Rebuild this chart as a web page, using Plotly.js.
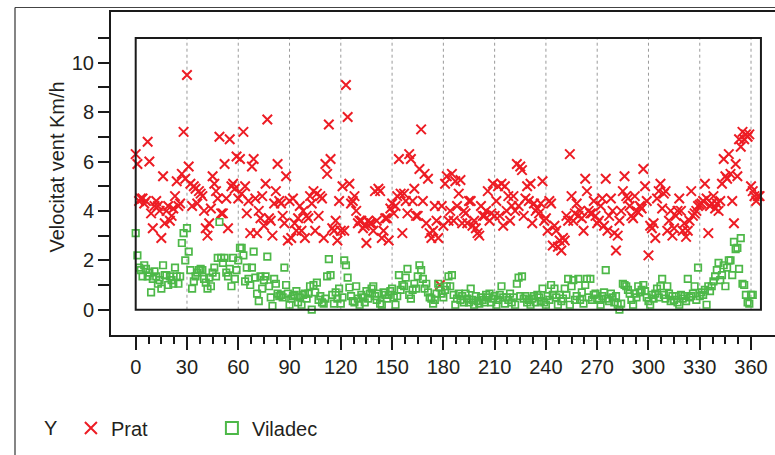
<!DOCTYPE html>
<html><head><meta charset="utf-8">
<script src="https://cdn.plot.ly/plotly-3.0.1.min.js"></script>
<style>html,body{margin:0;padding:0;overflow:hidden;background:#fff}#chart{width:790px;height:455px}</style>
</head><body><div id="chart"></div>
<script>
// Daily wind speed (km/h), day index 0..N
const pratValues = [
6.3,5.9,4.4,4.5,4.5,4.3,4.4,6.8,6.0,3.9,
3.3,4.2,4.4,4.2,4.0,2.9,5.4,3.5,4.0,4.2,
3.6,3.8,4.1,4.6,5.2,4.2,4.3,5.5,7.2,5.3,
9.5,5.8,5.1,4.2,5.0,4.9,4.3,4.8,4.7,4.6,
4.0,3.3,3.0,3.5,4.1,5.4,5.1,4.8,4.5,7.0,
3.9,3.9,5.9,4.5,3.3,6.9,5.0,5.1,4.9,6.2,
4.5,6.1,4.7,7.2,5.0,3.9,4.4,3.1,5.8,6.1,
4.5,3.1,4.0,3.7,4.6,3.4,5.1,7.7,3.7,3.6,
3.0,4.3,4.8,5.9,4.4,4.3,3.8,3.5,5.4,2.8,
4.4,2.9,4.5,3.5,3.2,3.7,4.2,3.2,4.0,2.9,
3.8,3.7,4.6,4.3,4.8,3.2,4.7,3.8,4.6,4.5,
2.9,5.9,5.5,7.5,6.1,3.3,3.2,3.6,2.8,4.4,
3.2,5.0,3.2,9.1,7.8,5.1,4.3,4.4,4.6,4.0,
3.5,3.6,3.6,3.3,3.4,2.7,3.6,3.5,3.5,3.2,
4.8,3.6,4.9,4.8,2.9,3.2,3.7,3.7,2.8,4.1,
4.3,3.9,4.2,4.6,6.1,4.7,3.1,4.7,4.4,3.9,
6.3,6.1,4.4,4.9,3.8,3.8,5.7,7.3,4.4,5.5,
3.5,5.3,3.1,2.9,3.2,4.2,3.6,2.9,1.0,4.2,
3.4,5.1,5.4,3.6,4.0,5.5,3.6,5.2,4.2,4.7,
5.25,3.5,4.0,3.9,3.5,4.4,4.4,3.4,3.6,3.3,
3.1,3.0,4.2,3.8,3.8,4.0,4.8,3.6,3.9,5.1,
3.8,4.4,5.0,3.8,5.1,3.4,5.0,4.0,4.6,3.6,
4.2,4.6,4.0,5.9,4.2,5.8,5.65,3.8,4.5,5.0,
4.4,5.1,3.5,4.3,4.0,4.1,3.9,4.3,5.2,3.6,
3.7,3.2,4.4,4.3,2.6,3.4,3.2,2.55,2.8,2.4,
2.9,2.8,3.8,3.6,6.3,4.6,3.6,3.9,4.3,3.8,
4.0,3.7,3.2,5.3,4.8,4.0,3.9,3.9,4.4,3.8,
3.5,3.6,4.2,4.5,3.4,5.3,3.2,3.8,4.5,4.0,
3.1,2.4,3.0,3.6,4.0,4.8,5.4,4.6,4.5,4.2,
3.8,3.7,4.6,4.0,3.95,4.2,4.1,5.7,5.0,4.4,
2.2,3.4,3.3,3.5,2.9,4.5,4.8,5.1,4.1,4.7,
4.8,3.2,3.6,4.0,3.0,3.3,3.8,4.0,4.5,4.0,
3.2,3.5,2.95,3.2,3.6,4.8,3.8,3.9,4.0,4.2,
4.25,4.3,4.4,5.1,4.5,3.1,4.2,4.3,4.6,4.1,
4.3,4.0,4.4,5.1,6.1,5.4,5.3,6.3,5.5,4.4,
3.5,5.9,5.4,6.9,6.6,7.2,6.9,7.1,7.0,7.1,
5.0,4.8,4.6,4.4,4.6,4.6
];
const viladecValues = [
3.1,2.2,1.7,1.6,1.35,1.8,1.65,1.35,1.5,0.7,
1.25,1.55,1.35,1.05,1.2,0.85,1.8,1.4,1.4,1.0,
1.35,1.2,1.05,1.7,1.35,1.05,1.35,2.7,3.1,2.0,
3.3,2.35,1.6,0.85,1.15,1.35,1.5,1.6,1.65,1.6,
1.25,1.1,0.85,1.3,0.95,1.5,1.7,1.35,2.1,3.55,
2.1,1.9,2.1,1.5,1.35,1.65,0.95,2.1,1.25,1.6,
2.0,2.5,2.5,2.2,1.15,1.7,1.25,1.0,1.7,2.35,
1.3,0.65,0.35,1.35,0.85,1.2,1.35,2.15,0.95,0.5,
0.15,1.25,1.05,0.65,0.55,0.6,0.5,1.7,1.0,0.65,
0.2,0.45,0.55,0.6,0.75,0.3,0.5,0.2,0.6,0.65,
0.45,0.65,0.95,0.0,1.0,0.7,1.1,0.4,0.55,0.3,
0.25,0.45,1.35,2.05,1.4,0.6,0.25,0.7,0.45,0.85,
0.25,0.5,2.0,1.8,1.3,0.9,0.55,0.35,0.3,0.95,
0.45,0.2,0.6,0.5,0.3,0.75,0.45,0.65,0.85,0.95,
0.55,0.4,0.65,0.25,0.2,0.7,0.6,0.45,0.6,0.75,
0.85,0.5,0.2,0.55,1.4,0.8,1.0,0.95,1.3,1.65,
0.6,0.45,0.8,1.05,0.85,1.35,1.8,1.6,1.25,0.85,
1.05,0.7,0.5,0.45,0.25,0.4,0.65,1.05,0.9,0.65,
0.5,0.8,0.95,1.35,0.95,1.4,0.6,0.2,0.45,0.65,
0.4,0.55,0.3,0.65,0.45,0.3,0.85,0.4,0.2,0.55,
0.35,0.25,0.5,0.4,0.3,0.6,0.5,0.65,0.3,0.45,
0.55,0.2,0.4,0.6,0.95,0.5,0.25,0.5,0.4,0.65,
0.3,0.5,0.2,1.05,1.3,0.55,1.35,0.45,0.55,0.3,
0.4,0.2,0.45,0.55,0.3,0.6,0.5,0.35,0.85,0.3,
0.2,0.55,0.4,1.0,0.6,0.85,0.5,0.2,0.6,0.35,
0.45,0.85,0.6,1.25,0.2,0.95,1.2,0.4,0.55,1.25,
0.4,0.7,0.25,1.0,1.25,0.5,1.25,0.4,0.6,0.65,
0.45,0.4,0.2,0.55,0.7,1.6,0.45,0.35,0.65,0.5,
0.3,0.55,0.2,0.0,0.25,1.05,1.0,0.95,0.8,0.65,
0.4,0.2,0.65,0.5,0.95,0.7,0.8,1.0,0.75,0.5,
0.35,0.2,0.6,0.45,0.65,0.85,0.5,0.95,1.25,0.6,
0.45,0.95,0.65,0.35,0.55,0.4,0.55,0.3,0.2,0.6,
0.45,0.55,0.35,1.25,0.5,0.55,0.65,0.95,0.4,1.7,
0.55,0.7,0.6,0.8,0.2,0.95,0.75,0.95,1.15,1.35,
1.6,1.9,1.2,1.4,1.8,0.95,1.7,2.0,2.0,1.4,
2.75,2.45,2.5,1.65,2.9,1.05,1.0,0.6,0.3,0.25,
0.6,0.6
];
const seriesNames = ['Prat', 'Viladec'];
const legendTitle = 'Y';
const yTitle = 'Velocitat vent Km/h';
const xTickValues = [0,30,60,90,120,150,180,210,240,270,300,330,360];
const yTickValues = [0,1,2,3,4,5,6,7,8,9,10,11];
const yTickLabels = ['0','','2','','4','','6','','8','','10',''];

const pratDays = pratValues.map((_, i) => i);
const viladecDays = viladecValues.map((_, i) => i);

const minorX = [];
for (let i = 0; i < xTickValues.length - 1; i++) {
  for (let k = 1; k < 4; k++) minorX.push(xTickValues[i] + k * 7.5);
}

const red = '#ED1C24', green = '#4DB848', ink = '#231F20';
const fontFam = '"Liberation Sans", Arial, Helvetica, sans-serif';

const traces = [
  {x: pratDays, y: pratValues, name: seriesNames[0], type: 'scatter', mode: 'markers',
   marker: {symbol: 'x-thin', size: 9.5, color: red, line: {color: red, width: 2}}},
  {x: viladecDays, y: viladecValues, name: seriesNames[1], type: 'scatter', mode: 'markers',
   marker: {symbol: 'square-open', size: 6.5, color: green, line: {color: green, width: 1.7}}}
];

const shapes = [];
xTickValues.slice(1).forEach(v => shapes.push({type: 'line', xref: 'x', yref: 'y', x0: v, x1: v, y0: 0, y1: 11,
  line: {color: '#9a9a9a', width: 1, dash: 'dot'}, layer: 'below'}));
shapes.push({type: 'rect', xref: 'x', yref: 'y', x0: 0, x1: 365.8, y0: 0, y1: 11, line: {color: '#1a1a1a', width: 2}});
// outer border lines of the graphic
const W = 679, H = 323;
shapes.push({type: 'line', xref: 'paper', yref: 'paper', x0: (15-111)/W, x1: (800-111)/W, y0: (335-7.5)/H, y1: (335-7.5)/H, line: {color: '#444', width: 1}});
shapes.push({type: 'line', xref: 'paper', yref: 'paper', x0: (15-111)/W, x1: (15-111)/W, y0: (335-7.5)/H, y1: (335-470)/H, line: {color: '#333', width: 1.2}});

const layout = {
  width: 790, height: 455,
  margin: {l: 111, r: 0, t: 12, b: 120, pad: 0},
  paper_bgcolor: '#fff', plot_bgcolor: '#fff',
  font: {family: fontFam, size: 20, color: ink},
  showlegend: true,
  legend: {orientation: 'h', x: (42-111)/W, xanchor: 'left', y: (335-428)/H, yanchor: 'middle',
    title: {text: legendTitle + '&nbsp;', font: {size: 20, color: ink}}, itemsizing: 'constant',
    font: {size: 20, color: ink}, entrywidth: 96, entrywidthmode: 'pixels', bgcolor: 'rgba(0,0,0,0)'},
  xaxis: {range: [-14.45, 382.8], showgrid: false, zeroline: false,
    tickmode: 'array', tickvals: xTickValues, ticks: 'outside', ticklen: 13, tickwidth: 2, tickcolor: '#1a1a1a',
    minor: {tickmode: 'array', tickvals: minorX, ticks: 'outside', ticklen: 7, tickwidth: 2, tickcolor: '#1a1a1a', showgrid: false},
    showline: true, linewidth: 2, linecolor: '#1a1a1a', mirror: true,
    tickfont: {size: 20, color: ink, family: fontFam}},
  yaxis: {range: [-1.024, 12.053], showgrid: false, zeroline: false,
    tickmode: 'array', tickvals: yTickValues, ticktext: yTickLabels, ticks: 'outside', ticklen: 11, tickwidth: 2, tickcolor: '#1a1a1a',
    showline: true, linewidth: 2, linecolor: '#1a1a1a', mirror: true,
    tickfont: {size: 20, color: ink, family: fontFam}},
  shapes: shapes,
  annotations: [{text: yTitle, textangle: -90, xref: 'paper', yref: 'paper', x: (56-111)/W, y: (335-167.5)/H,
    xanchor: 'center', yanchor: 'middle', showarrow: false, font: {size: 20, color: ink, family: fontFam}}]
};

Plotly.newPlot('chart', traces, layout, {displayModeBar: false, staticPlot: true});
</script>
</body></html>
